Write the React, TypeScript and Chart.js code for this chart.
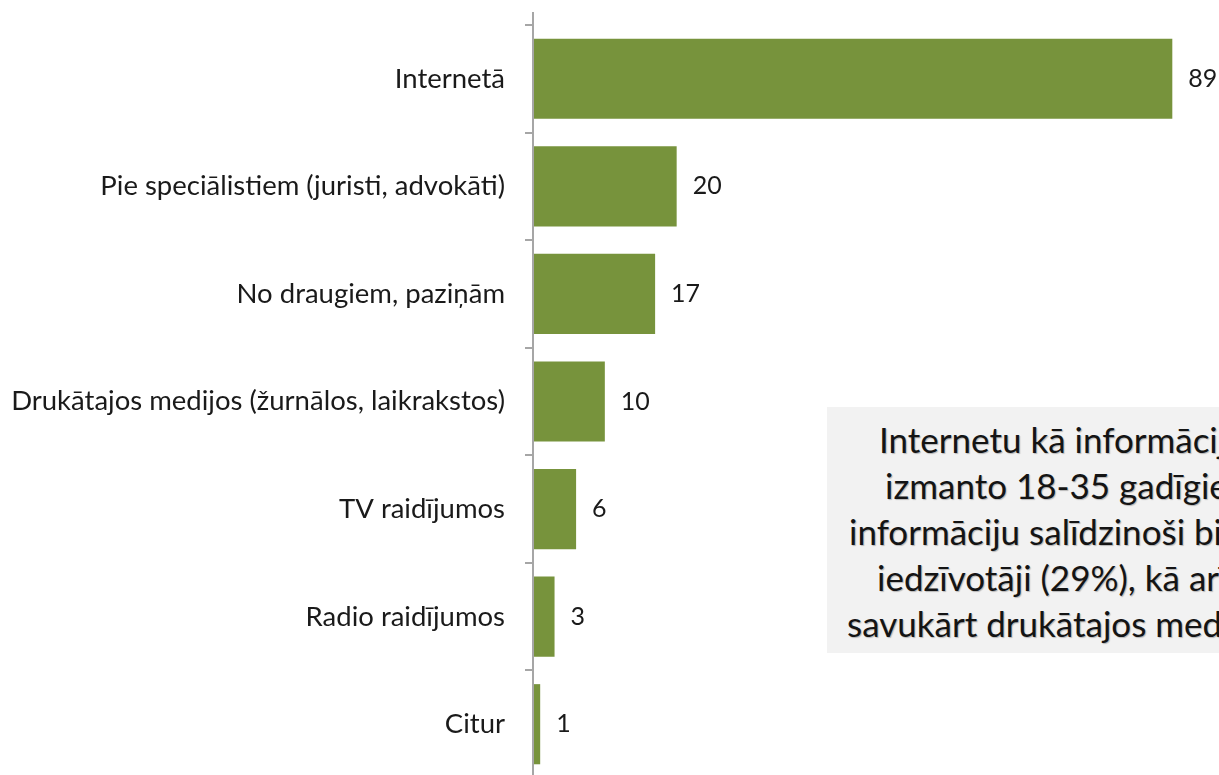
import React, { useEffect, useRef } from "react";
import { Chart, registerables } from "chart.js";

Chart.register(...registerables);

const categories: string[] = [
  "Internetā",
  "Pie speciālistiem (juristi, advokāti)",
  "No draugiem, paziņām",
  "Drukātajos medijos (žurnālos, laikrakstos)",
  "TV raidījumos",
  "Radio raidījumos",
  "Citur",
];
const values: number[] = [89, 20, 17, 10, 6, 3, 1];

const noteLines: string[] = [
  "Internetu kā informācijas avotu",
  "izmanto 18-35 gadīgie respondenti",
  "informāciju salīdzinoši biežāk meklē",
  "iedzīvotāji (29%), kā arī vecāki",
  "savukārt drukātajos medijos",
];
const noteIndent: number[] = [52, 58, 22, 50, 20];

const FONT = "Lato";
const BAR_COLOR = "#77933C";

const valueLabels = {
  id: "valueLabels",
  afterDatasetsDraw(chart: any) {
    const ctx = chart.ctx;
    const meta = chart.getDatasetMeta(0);
    ctx.save();
    ctx.font = `25px ${FONT}`;
    ctx.fillStyle = "#1a1a1a";
    ctx.textAlign = "left";
    ctx.textBaseline = "middle";
    meta.data.forEach((bar: any, i: number) => {
      ctx.fillText(String(values[i]), bar.x + 16, bar.y);
    });
    ctx.restore();
  },
};

const axisLine = {
  id: "axisLine",
  afterDraw(chart: any) {
    const ctx = chart.ctx;
    const x = chart.chartArea.left;
    ctx.save();
    ctx.strokeStyle = "#A6A6A6";
    ctx.lineWidth = 2;
    ctx.beginPath();
    ctx.moveTo(x, 12);
    ctx.lineTo(x, chart.height);
    ctx.stroke();
    ctx.restore();
  },
};

export default function App() {
  const canvasRef = useRef<HTMLCanvasElement | null>(null);

  useEffect(() => {
    document.body.style.margin = "0";
    const canvas = canvasRef.current!;
    const chart = new Chart(canvas, {
      type: "bar",
      data: {
        labels: categories,
        datasets: [
          {
            data: values,
            backgroundColor: BAR_COLOR,
            barPercentage: 0.745,
            categoryPercentage: 1,
          },
        ],
      },
      options: {
        indexAxis: "y",
        responsive: false,
        animation: false,
        layout: { padding: { top: 25, bottom: 0, left: 0, right: 0 } },
        plugins: { legend: { display: false }, tooltip: { enabled: false } },
        scales: {
          x: { display: false, min: 0, max: 95.5 },
          y: {
            grid: {
              drawOnChartArea: false,
              drawTicks: true,
              tickLength: 8,
              color: "#A6A6A6",
              lineWidth: 2,
              offset: true,
            },
            border: { display: false },
            ticks: {
              padding: 20,
              color: "#1a1a1a",
              font: { family: FONT, size: 27.5 },
            },
            afterFit(scale: any) {
              scale.width = 533;
              scale.paddingTop = 0;
              scale.paddingBottom = 0;
            },
          },
        },
      },
      plugins: [valueLabels, axisLine],
    });
    return () => chart.destroy();
  }, []);

  return (
    <div
      style={{
        position: "fixed",
        left: 0,
        top: 0,
        width: 1219,
        height: 775,
        overflow: "hidden",
        background: "#fff",
      }}
    >
      <canvas ref={canvasRef} width={1219} height={778} style={{ display: "block" }} />
      <div
        style={{
          position: "absolute",
          left: 827,
          top: 407,
          width: 560,
          height: 246,
          background: "#F2F2F2",
          fontFamily: FONT,
          fontSize: 35,
          color: "#141414",
          textShadow: "1px 1px 1px rgba(0,0,0,0.25)",
          paddingTop: 9,
          boxSizing: "border-box",
        }}
      >
        {noteLines.map((line, i) => (
          <div
            key={i}
            style={{ lineHeight: "46px", whiteSpace: "nowrap", paddingLeft: noteIndent[i] }}
          >
            {line}
          </div>
        ))}
      </div>
    </div>
  );
}
